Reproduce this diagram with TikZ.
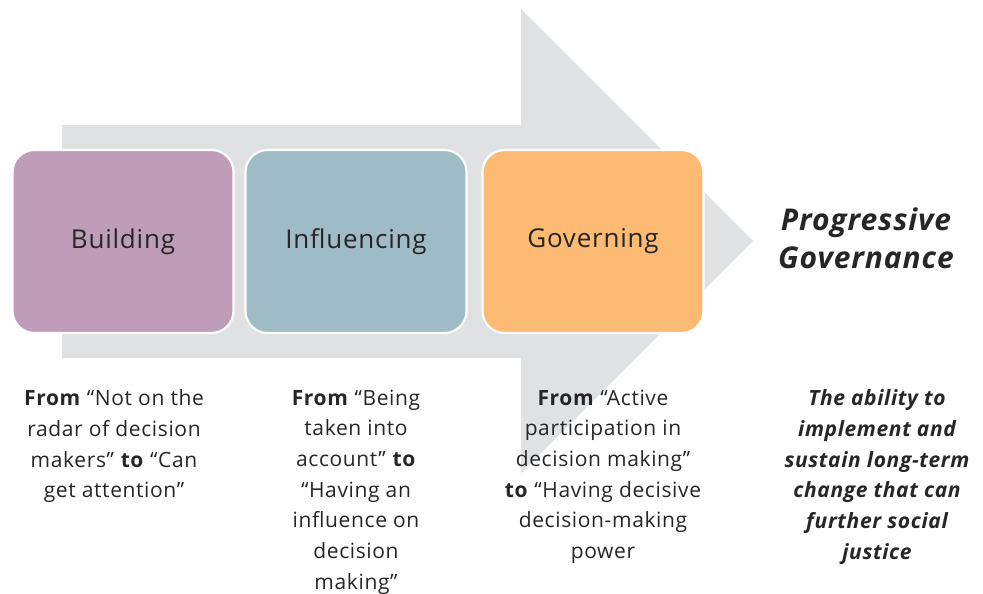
\documentclass[tikz,border=0pt]{standalone}
\usepackage{fontspec}
\setmainfont{Open Sans}[LetterSpace=3]
\definecolor{arrowgray}{RGB}{224,225,227}
\definecolor{buildc}{RGB}{191,157,185}
\definecolor{inflc}{RGB}{159,187,197}
\definecolor{govc}{RGB}{252,186,114}
\definecolor{txt}{RGB}{38,38,38}
\begin{document}
\begin{tikzpicture}[x=1pt,y=-1pt,
  stagebox/.style={draw=white, line width=2.2pt, rounded corners=22pt,
    minimum width=221pt, minimum height=183pt, inner sep=0pt,
    text=txt, font=\fontsize{26}{32}\selectfont},
  caption/.style={align=center, anchor=north, inner sep=0pt, text=txt,
    font=\fontsize{21}{30.7}\selectfont},
  goal/.style={align=center, anchor=north, inner sep=0pt, text=txt,
    font=\fontsize{21}{30.7}\selectfont\bfseries\itshape}]
  \useasboundingbox (0,0) rectangle (983,594);
  % big progress arrow behind the stages
  \fill[arrowgray] (62,125) -- (521,125) -- (521,9) -- (753,241)
    -- (521,473) -- (521,358) -- (62,358) -- cycle;
  % stage boxes
  \node[stagebox, fill=buildc] (build) at (123,241.5) {Building};
  \node[stagebox, fill=inflc] (infl) at (356,241.5) {Influencing};
  \node[stagebox, fill=govc] (gov) at (593,241.5) {Governing};
  % end goal
  \node[goal, font=\fontsize{30}{38}\selectfont\bfseries\itshape] (pg) at (866,207.5) {Progressive\\Governance};
  % descriptions
  \node[caption] (d1) at (114,389.5) {\textbf{From} “Not on the\\radar of decision\\makers” \textbf{to} “Can\\get attention”};
  \node[caption] (d2) at (356,389.5) {\textbf{From} “Being\\taken into\\account” \textbf{to}\\“Having an\\influence on\\decision\\making”};
  \node[caption] (d3) at (603,389.5) {\textbf{From} “Active\\participation in\\decision making”\\\textbf{to} “Having decisive\\decision-making\\power};
  \node[goal] (d4) at (877,389.5) {The ability to\\implement and\\sustain long-term\\change that can\\further social\\justice};
\end{tikzpicture}
\end{document}
